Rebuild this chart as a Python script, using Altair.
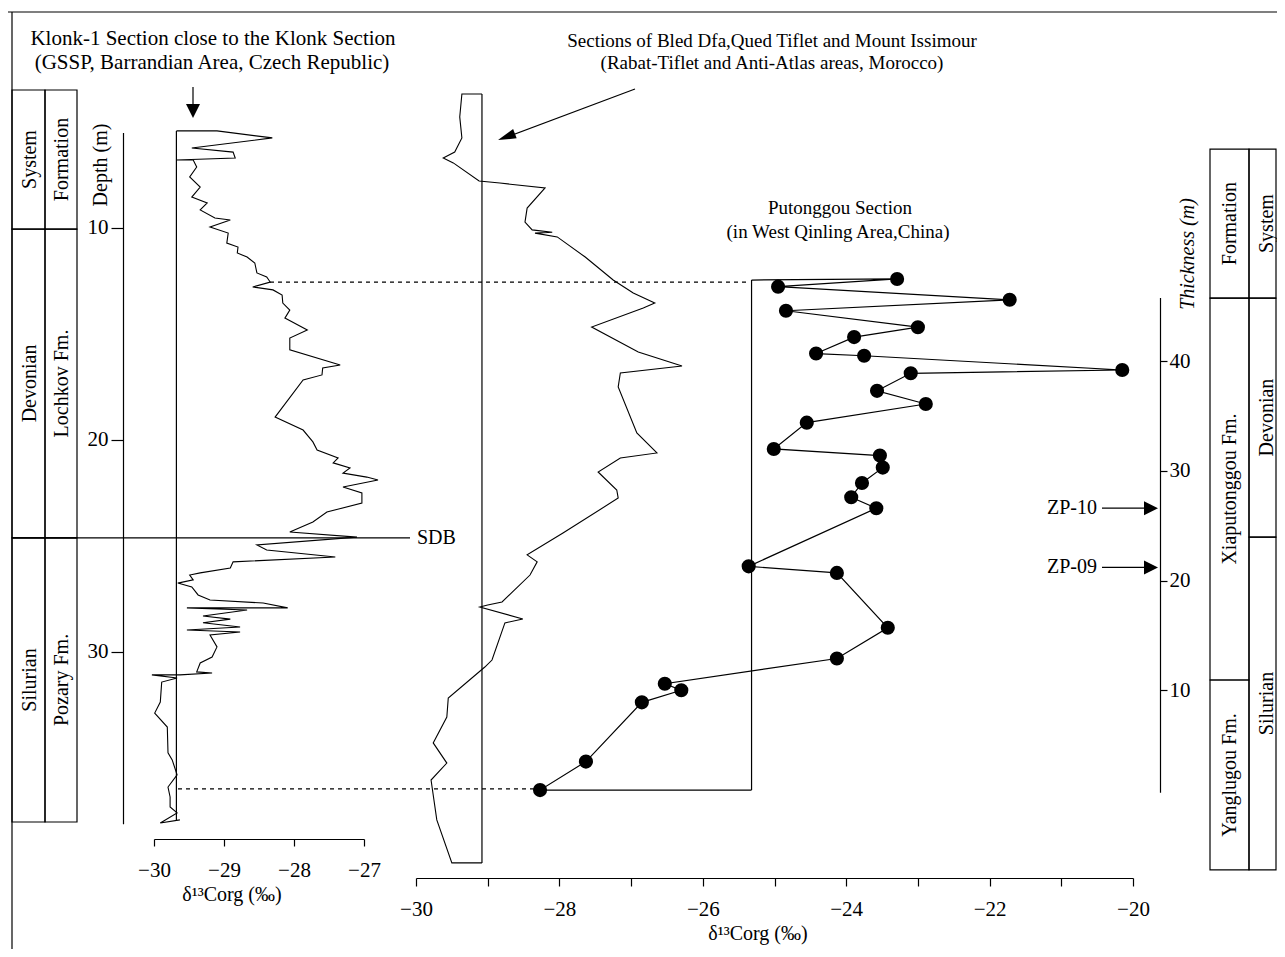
import altair as alt
import pandas as pd

FONT = "Liberation Serif"
W, H = 1269, 941
M = 8
LW = 1.2

# ---------------- data ----------------
# Klonk-1 section: delta13C org (permil) vs depth (m)
klonk_d13c = [-29.68, -29.10, -28.31, -29.46, -28.87, -28.84, -29.68, -29.44, -29.39, -29.49,
              -29.34, -29.46, -29.24, -29.34, -29.13, -28.91, -29.20, -28.94, -28.96, -28.80,
              -28.81, -28.67, -28.56, -28.53, -28.39, -28.34, -28.59, -28.30, -28.17, -28.16,
              -28.06, -28.13, -27.81, -28.06, -28.06, -27.34, -27.59, -27.60, -27.87, -28.27,
              -27.87, -27.73, -27.67, -27.37, -27.44, -27.20, -27.30, -26.96, -26.80, -27.30,
              -27.03, -27.03, -27.53, -27.73, -28.06, -27.10, -28.53, -28.39, -27.41, -28.87,
              -28.91, -29.34, -29.49, -29.44, -29.66, -29.46, -29.37, -29.20, -28.44, -28.09,
              -29.53, -28.67, -29.30, -28.91, -29.30, -28.77, -29.53, -28.77, -29.20, -29.10,
              -29.17, -29.34, -29.39, -29.17, -29.63, -30.03, -29.67, -29.89, -29.91, -29.99,
              -29.81, -29.80, -29.74, -29.67, -29.80, -29.77, -29.77, -29.67, -29.91, -29.63]
klonk_depth = [5.42, 5.42, 5.75, 6.23, 6.42, 6.70, 6.79, 6.79, 7.12, 7.59,
               8.07, 8.54, 8.82, 9.15, 9.53, 9.62, 9.95, 10.24, 10.71, 10.90,
               11.18, 11.37, 11.65, 12.12, 12.31, 12.55, 12.78, 12.92, 13.16, 13.54,
               13.87, 14.25, 14.81, 15.19, 15.75, 16.46, 16.60, 16.93, 17.17, 18.92,
               19.53, 20.09, 20.47, 20.85, 21.08, 21.32, 21.56, 21.75, 21.89, 22.22,
               22.50, 22.97, 23.40, 23.87, 24.34, 24.58, 24.95, 25.19, 25.52, 25.75,
               26.04, 26.27, 26.37, 26.60, 26.75, 26.93, 27.31, 27.55, 27.69, 27.92,
               27.92, 28.02, 28.30, 28.45, 28.62, 28.82, 28.96, 29.06, 29.20, 29.76,
               30.24, 30.52, 30.94, 30.99, 31.08, 31.08, 31.23, 31.42, 32.36, 32.88,
               33.54, 34.76, 35.09, 35.80, 36.37, 36.84, 37.31, 37.59, 38.07, 37.92]
klonk_ref = -29.68
klonk_extent = [5.42, 37.97]

# Morocco sections (plotted against equivalent depth of the Klonk section)
morocco_d13c = [-29.08, -29.36, -29.39, -29.36, -29.46, -29.62, -29.48, -29.12, -28.83, -28.20,
                -28.45, -28.48, -28.38, -28.10, -28.34, -28.03, -27.64, -27.25, -26.97, -26.67,
                -26.83, -27.55, -26.90, -26.29, -27.15, -27.18, -26.92, -26.64, -27.15, -27.46,
                -27.20, -27.18, -27.95, -28.45, -28.31, -28.41, -28.80, -29.00, -29.11, -28.51,
                -28.76, -28.94, -29.04, -29.55, -29.57, -29.76, -29.57, -29.79, -29.71, -29.50,
                -29.08]
morocco_depth = [3.68, 3.68, 4.76, 5.75, 6.42, 6.70, 6.93, 7.78, 7.88, 8.11,
                 9.06, 9.72, 10.09, 10.20, 10.24, 10.42, 11.37, 12.45, 13.07, 13.54,
                 13.77, 14.67, 15.85, 16.51, 16.84, 17.50, 19.67, 20.61, 20.85, 21.51,
                 22.36, 22.74, 24.39, 25.42, 25.75, 26.37, 27.64, 27.78, 27.88, 28.44,
                 28.63, 30.38, 30.71, 32.17, 33.07, 34.29, 35.24, 36.04, 37.92, 39.95,
                 39.95]
morocco_ref = -29.08
morocco_extent = [3.68, 39.95]

# Putonggou section: delta13C org vs thickness (m)
put_d13c = [-23.29, -24.95, -21.72, -24.84, -23.00, -23.89, -24.42, -23.75, -20.15, -23.10,
            -23.57, -22.89, -24.55, -25.01, -23.53, -23.49, -23.78, -23.93, -23.58, -25.36,
            -24.13, -23.42, -24.13, -26.53, -26.30, -26.85, -27.63, -28.27]
put_thick = [47.5, 46.8, 45.6, 44.6, 43.1, 42.2, 40.7, 40.5, 39.2, 38.9,
             37.3, 36.1, 34.4, 32.0, 31.4, 30.3, 28.9, 27.6, 26.6, 21.3,
             20.7, 15.7, 12.9, 10.6, 10.0, 8.9, 3.5, 0.9]
put_ref = -25.32
put_extent = [47.4, 0.9]

klonk_ticks = [-30, -29, -28, -27]
depth_ticks = [10, 20, 30]
main_ticks = list(range(-30, -19))
thick_ticks = [10, 20, 30, 40]

left_system = ["System", "Devonian", "Silurian"]
left_formation = ["Formation", "Lochkov Fm.", "Pozary Fm."]
left_bounds = [3.49, 10.05, 24.62, 38.02]
right_system = ["System", "Devonian", "Silurian"]
right_system_bounds = [59.34, 45.76, 23.97, -6.38]
right_formation = ["Formation", "Xiaputonggou Fm.", "Yanglugou Fm."]
right_formation_bounds = [59.34, 45.76, 10.94, -6.38]
sdb_depth = 24.62
corr_depths = [12.55, 36.46]
zp_labels = ["ZP-10", "ZP-09"]
zp_thick = [26.6, 21.2]


# ---------------- helpers ----------------
def X(p):
    return p - M


def Y(p):
    return p - M


one = pd.DataFrame({"k": [0]})

depth_scale = alt.Scale(domain=[5.5, 38.1], range=[Y(132.6), Y(823.7)], zero=False, nice=False)
klonk_x = alt.Scale(domain=[-30, -27], range=[X(154), X(364)], zero=False, nice=False)
main_x = alt.Scale(domain=[-30, -20], range=[X(416), X(1133)], zero=False, nice=False)
thick_scale = alt.Scale(domain=[0.7, 45.8], range=[Y(792.3), Y(297.6)], zero=False, nice=False)

axis_common = dict(grid=False, domainColor="black", tickColor="black", labelColor="black",
                   labelFont=FONT, labelFontSize=21, domainWidth=LW, tickWidth=LW,
                   labelFlush=False, labelOverlap=False, title=None)


def prule(x1, y1, x2=None, y2=None, dash=None):
    kw = {}
    if dash:
        kw["strokeDash"] = dash
    enc = dict(x=alt.value(X(x1)), y=alt.value(Y(y1)))
    if x2 is not None:
        enc["x2"] = alt.value(X(x2))
    if y2 is not None:
        enc["y2"] = alt.value(Y(y2))
    return alt.Chart(one).mark_rule(color="black", strokeWidth=LW, **kw).encode(**enc)


def label(text, x, y, size=20, align="center", baseline="alphabetic", angle=0, style=None):
    mk = dict(text=text, font=FONT, fontSize=size, align=align, baseline=baseline, color="black")
    if angle:
        mk["angle"] = angle
    if style:
        mk["fontStyle"] = style
    return alt.Chart(one).mark_text(**mk).encode(x=alt.value(X(x)), y=alt.value(Y(y)))


HEAD = "M1,0L-0.4,-0.7L-0.4,0.7Z"
HEAD_NARROW = "M1,0L-0.8,-0.5L-0.8,0.5Z"


def head(x, y, angle, shape=HEAD, size=400):
    mk = dict(shape=shape, size=size, filled=True, color="black", opacity=1, strokeWidth=0)
    if angle:
        mk["angle"] = angle
    return alt.Chart(one).mark_point(**mk).encode(x=alt.value(X(x)), y=alt.value(Y(y)))


layers = []

# frame
layers.append(prule(8, 12, x2=1285))
layers.append(prule(12, 12, y2=957))

# ---------------- left stratigraphic column ----------------
ldf = pd.DataFrame({"top": left_bounds[:-1], "bottom": left_bounds[1:],
                    "system": left_system, "formation": left_formation})
for (x1, x2, field) in [(12, 45, "system"), (45, 77, "formation")]:
    layers.append(alt.Chart(ldf).mark_rect(filled=False, color="black", strokeWidth=LW).encode(
        x=alt.value(X(x1)), x2=alt.value(X(x2)),
        y=alt.Y("top:Q", scale=depth_scale, axis=None), y2="bottom:Q"))
    layers.append(alt.Chart(ldf).transform_calculate(mid="(datum.top + datum.bottom) / 2").mark_text(
        font=FONT, fontSize=20, angle=270, align="center", baseline="middle", color="black").encode(
        x=alt.value(X((x1 + x2) / 2 + 1)),
        y=alt.Y("mid:Q", scale=depth_scale, axis=None), text=f"{field}:N"))

# SDB line
layers.append(alt.Chart(pd.DataFrame({"d": [sdb_depth]})).mark_rule(color="black", strokeWidth=LW).encode(
    x=alt.value(X(12)), x2=alt.value(X(410)), y=alt.Y("d:Q", scale=depth_scale, axis=None)))
layers.append(alt.Chart(pd.DataFrame({"d": [sdb_depth]})).mark_text(
    text="SDB", font=FONT, fontSize=20, align="left", baseline="middle", color="black").encode(
    x=alt.value(X(417)), y=alt.Y("d:Q", scale=depth_scale, axis=None)))

# correlation dotted lines
layers.append(alt.Chart(pd.DataFrame({"d": [corr_depths[0]]})).mark_rule(
    color="black", strokeWidth=LW, strokeDash=[4, 4]).encode(
    x=alt.value(X(270)), x2=alt.value(X(748)), y=alt.Y("d:Q", scale=depth_scale, axis=None)))
layers.append(alt.Chart(pd.DataFrame({"d": [corr_depths[1]]})).mark_rule(
    color="black", strokeWidth=LW, strokeDash=[4, 4]).encode(
    x=alt.value(X(178)), x2=alt.value(X(540)), y=alt.Y("d:Q", scale=depth_scale, axis=None)))

# ---------------- Klonk section ----------------
kdf = pd.DataFrame({"i": range(len(klonk_d13c)), "d13c": klonk_d13c, "depth": klonk_depth})
layers.append(alt.Chart(kdf).mark_line(color="black", strokeWidth=1.1).encode(
    x=alt.X("d13c:Q", scale=klonk_x,
            axis=alt.Axis(orient="bottom", offset=Y(839) - H, values=klonk_ticks, tickSize=7,
                          labelPadding=13, **axis_common)),
    y=alt.Y("depth:Q", scale=depth_scale,
            axis=alt.Axis(orient="left", offset=-X(123), values=depth_ticks, tickSize=12,
                          labelPadding=3, **axis_common)),
    order="i:Q"))
layers.append(alt.Chart(pd.DataFrame({"ref": [klonk_ref], "top": [klonk_extent[0]], "bottom": [klonk_extent[1]]}))
              .mark_rule(color="black", strokeWidth=LW).encode(
    x=alt.X("ref:Q", scale=klonk_x, axis=None),
    y=alt.Y("top:Q", scale=depth_scale, axis=None), y2="bottom:Q"))

# ---------------- Morocco sections ----------------
mdf = pd.DataFrame({"i": range(len(morocco_d13c)), "d13c": morocco_d13c, "depth": morocco_depth})
layers.append(alt.Chart(mdf).mark_line(color="black", strokeWidth=1.1).encode(
    x=alt.X("d13c:Q", scale=main_x,
            axis=alt.Axis(orient="bottom", offset=Y(878) - H, values=main_ticks, tickSize=8,
                          labelPadding=12, labelExpr="datum.value % 2 == 0 ? datum.label : ''",
                          **axis_common)),
    y=alt.Y("depth:Q", scale=depth_scale, axis=None),
    order="i:Q"))
layers.append(alt.Chart(pd.DataFrame({"ref": [morocco_ref], "top": [morocco_extent[0]], "bottom": [morocco_extent[1]]}))
              .mark_rule(color="black", strokeWidth=LW).encode(
    x=alt.X("ref:Q", scale=main_x, axis=None),
    y=alt.Y("top:Q", scale=depth_scale, axis=None), y2="bottom:Q"))

# ---------------- Putonggou section ----------------
path_d = [put_ref] + put_d13c + [put_ref]
path_t = [put_extent[0]] + put_thick + [put_extent[1]]
pdf_path = pd.DataFrame({"i": range(len(path_d)), "d13c": path_d, "t": path_t})
layers.append(alt.Chart(pdf_path).mark_line(color="black", strokeWidth=1.2).encode(
    x=alt.X("d13c:Q", scale=main_x, axis=None),
    y=alt.Y("t:Q", scale=thick_scale,
            axis=alt.Axis(orient="right", offset=X(1160) - W, values=thick_ticks, tickSize=7,
                          labelPadding=2, **axis_common)),
    order="i:Q"))
layers.append(alt.Chart(pd.DataFrame({"ref": [put_ref], "top": [put_extent[0]], "bottom": [put_extent[1]]}))
              .mark_rule(color="black", strokeWidth=LW).encode(
    x=alt.X("ref:Q", scale=main_x, axis=None),
    y=alt.Y("top:Q", scale=thick_scale, axis=None), y2="bottom:Q"))
pdf_pts = pd.DataFrame({"d13c": put_d13c, "t": put_thick})
layers.append(alt.Chart(pdf_pts).mark_point(shape="circle", filled=True, size=200, color="black",
                                            opacity=1, strokeWidth=0).encode(
    x=alt.X("d13c:Q", scale=main_x, axis=None),
    y=alt.Y("t:Q", scale=thick_scale, axis=None)))

# ZP arrows
zdf = pd.DataFrame({"label": zp_labels, "t": zp_thick})
layers.append(alt.Chart(zdf).mark_text(font=FONT, fontSize=20, align="right", baseline="middle",
                                       color="black").encode(
    x=alt.value(X(1097)), y=alt.Y("t:Q", scale=thick_scale, axis=None), text="label:N"))
layers.append(alt.Chart(zdf).mark_rule(color="black", strokeWidth=LW).encode(
    x=alt.value(X(1102)), x2=alt.value(X(1146)), y=alt.Y("t:Q", scale=thick_scale, axis=None)))
layers.append(alt.Chart(zdf).mark_point(shape=HEAD, size=400, filled=True, color="black", opacity=1,
                                        strokeWidth=0).encode(
    x=alt.value(X(1148)), y=alt.Y("t:Q", scale=thick_scale, axis=None)))

# ---------------- right stratigraphic column ----------------
rsdf = pd.DataFrame({"top": right_system_bounds[:-1], "bottom": right_system_bounds[1:], "name": right_system})
rfdf = pd.DataFrame({"top": right_formation_bounds[:-1], "bottom": right_formation_bounds[1:], "name": right_formation})
for (x1, x2, df) in [(1210, 1249, rfdf), (1249, 1276, rsdf)]:
    layers.append(alt.Chart(df).mark_rect(filled=False, color="black", strokeWidth=LW).encode(
        x=alt.value(X(x1)), x2=alt.value(X(x2)),
        y=alt.Y("top:Q", scale=thick_scale, axis=None), y2="bottom:Q"))
for (xc, df) in [(1230, rfdf), (1267, rsdf)]:
    layers.append(alt.Chart(df).transform_calculate(mid="(datum.top + datum.bottom) / 2").mark_text(
        font=FONT, fontSize=20, angle=270, align="center", baseline="middle", color="black").encode(
        x=alt.value(X(xc)), y=alt.Y("mid:Q", scale=thick_scale, axis=None), text="name:N"))

# ---------------- titles, axis titles & arrows ----------------
layers.append(label("Klonk-1 Section close to the Klonk Section", 213, 45, size=21))
layers.append(label("(GSSP, Barrandian Area, Czech Republic)", 212, 69, size=21))
layers.append(label("Sections of Bled Dfa,Qued Tiflet and Mount Issimour", 772, 47, size=19))
layers.append(label("(Rabat-Tiflet and Anti-Atlas areas, Morocco)", 772, 69, size=19))
layers.append(label("Putonggou Section", 840, 214, size=19))
layers.append(label("(in West Qinling Area,China)", 838, 238, size=19))
layers.append(label("Depth (m)", 101, 165, size=20, baseline="middle", angle=270))
layers.append(label("Thickness (m)", 1188, 254, size=20, baseline="middle", angle=270, style="italic"))
layers.append(label("δ¹³Corg (‰)", 232, 895, size=20, baseline="middle"))
layers.append(label("δ¹³Corg (‰)", 758, 934, size=20, baseline="middle"))

# Klonk arrow
layers.append(prule(193, 87, y2=106))
layers.append(head(193, 108, 90))
# Morocco arrow
layers.append(prule(635, 89, x2=507, y2=137))
layers.append(head(507.4, 136.5, 159.4, shape=HEAD_NARROW))

chart = alt.layer(*layers).resolve_scale(x="independent", y="independent").properties(
    width=W, height=H, autosize=alt.AutoSizeParams(type="none"), padding=0,
    background="white").configure_view(stroke=None)

chart.save("out.html", embed_options={"renderer": "svg", "actions": False})
